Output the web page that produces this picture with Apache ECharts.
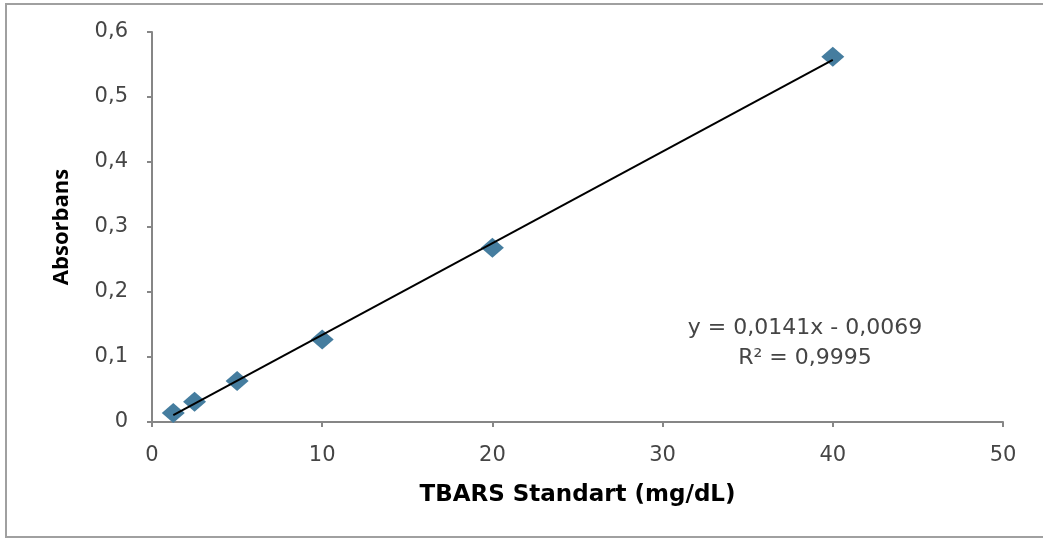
<!DOCTYPE html>
<html>
<head>
<meta charset="utf-8">
<script src="https://cdn.jsdelivr.net/npm/echarts@6/dist/echarts.min.js"></script>
<style>html,body{margin:0;padding:0;background:#fff;}#c{width:1043px;height:539px;}</style>
</head>
<body>
<div id="c"></div>
<script>
var concentrations = [1.25, 2.5, 5, 10, 20, 40];
var absorbances = [0.014, 0.031, 0.063, 0.127, 0.268, 0.562];
var slope = 0.0141;
var intercept = -0.0069;
var equationLines = ['y = 0,0141x - 0,0069', 'R² = 0,9995'];
var xTitle = 'TBARS Standart (mg/dL)';
var yTitle = 'Absorbans';

var points = concentrations.map(function (x, i) { return [x, absorbances[i]]; });
var xMin = concentrations[0], xMax = concentrations[concentrations.length - 1];
var trend = [[xMin, slope * xMin + intercept], [xMax, slope * xMax + intercept]];

var chart = echarts.init(document.getElementById('c'));
var font = '"DejaVu Sans", sans-serif';
var axisColor = '#868686';
function comma(v) { return String(Math.round(v * 10) / 10).replace('.', ','); }
chart.setOption({
  animation: false,
  backgroundColor: '#fff',
  grid: { left: 152, right: 40, top: 32, bottom: 117 },
  xAxis: {
    type: 'value', min: 0, max: 50, interval: 10,
    splitLine: { show: false },
    axisLine: { lineStyle: { color: axisColor, width: 2 } },
    axisTick: { show: true, length: 5, lineStyle: { color: axisColor, width: 2 } },
    axisLabel: { color: '#454545', fontSize: 21, fontFamily: font, margin: 23 },
    name: xTitle, nameLocation: 'middle', nameGap: 62,
    nameTextStyle: { color: '#000', fontSize: 23, fontWeight: 'bold', fontFamily: font }
  },
  yAxis: {
    type: 'value', min: 0, max: 0.6, interval: 0.1,
    splitLine: { show: false },
    axisLine: { lineStyle: { color: axisColor, width: 2 } },
    axisTick: { show: true, length: 5, lineStyle: { color: axisColor, width: 2 } },
    axisLabel: { color: '#454545', fontSize: 21, fontFamily: font, margin: 24, formatter: comma },
    name: yTitle, nameLocation: 'middle', nameGap: 79,
    nameTextStyle: { color: '#000', fontSize: 22, fontWeight: 'bold', fontFamily: '"Open Sans", sans-serif' }
  },
  series: [
    {
      type: 'line', data: trend, symbol: 'none', silent: true,
      lineStyle: { color: '#000', width: 2 }, z: 3
    },
    {
      type: 'scatter', data: points, symbol: 'diamond', symbolSize: [23, 20],
      itemStyle: { color: '#457d9f', opacity: 1 }, z: 2
    }
  ],
  graphic: [
    {
      type: 'rect', shape: { x: 6, y: 4, width: 1100, height: 533 },
      style: { fill: 'none', stroke: '#a0a0a0', lineWidth: 2 }, silent: true
    },
    {
      type: 'text', x: 805, y: 313,
      style: { text: equationLines.join('\n'), font: '22px ' + font, fill: '#454545', align: 'center', textAlign: 'center', lineHeight: 30 }
    }
  ]
});
</script>
</body>
</html>
